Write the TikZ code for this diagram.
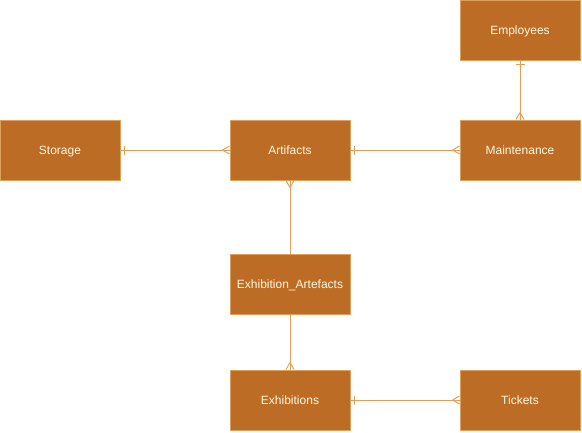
\documentclass[tikz,border=0pt]{standalone}
\usepackage{fontspec}
\setmainfont{Liberation Sans}
\usetikzlibrary{arrows.meta}

\definecolor{boxfill}{HTML}{BC6C25}
\definecolor{boxline}{HTML}{DDA15E}
\definecolor{boxtext}{HTML}{FEFAE0}

%%% Crow's foot (many) and bar (one) tips
\pgfdeclarearrow{
  name = many,
  setup code = {
    \pgfarrowssettipend{0pt}
    \pgfarrowssetlineend{0pt}
    \pgfarrowssetvisualbackend{-7pt}
    \pgfarrowssetbackend{-7pt}
  },
  drawing code = {
    \pgfpathmoveto{\pgfpoint{-7pt}{0pt}}
    \pgfpathlineto{\pgfpoint{0pt}{4pt}}
    \pgfpathmoveto{\pgfpoint{-7pt}{0pt}}
    \pgfpathlineto{\pgfpoint{0pt}{-4pt}}
    \pgfusepathqstroke
  }
}
\pgfdeclarearrow{
  name = one,
  setup code = {
    \pgfarrowssettipend{0pt}
    \pgfarrowssetlineend{0pt}
    \pgfarrowssetvisualbackend{-5pt}
    \pgfarrowssetbackend{-5pt}
  },
  drawing code = {
    \pgfpathmoveto{\pgfpoint{-4pt}{-4.5pt}}
    \pgfpathlineto{\pgfpoint{-4pt}{4.5pt}}
    \pgfusepathqstroke
  }
}

\tikzset{
  entity/.style={draw=boxline, fill=boxfill, line width=1pt, text=boxtext,
    minimum width=120pt, minimum height=60pt, inner sep=0pt,
    text height=8.6pt, text depth=0pt,
    font=\fontsize{12}{14}\selectfont},
  rel/.style={draw=boxline, line width=1pt}
}

\def\colA{60}
\def\colB{290}
\def\colC{520}

\begin{document}
\begin{tikzpicture}[x=1pt,y=-1pt]

	\useasboundingbox (0,0) rectangle (582,432);

	%%% Entities
	\node[entity] (storage) at (\colA,150) {Storage};
	\node[entity] (artifacts) at (\colB,150) {Artifacts};
	\node[entity] (maintenance) at (\colC,150) {Maintenance};
	\node[entity] (employees) at (\colC,30) {Employees};
	\node[entity] (exh_art) at (\colB,284) {Exhibition\_Artefacts};
	\node[entity] (exhibitions) at (\colB,400) {Exhibitions};
	\node[entity] (tickets) at (\colC,400) {Tickets};

	%%% Relations
	\draw[rel, many-one] (artifacts.west) -- (storage.east);
	\draw[rel, many-one] (maintenance.west) -- (artifacts.east);
	\draw[rel, many-one] (maintenance.north) -- (employees.south);
	\draw[rel, -many] (exh_art.north) -- (artifacts.south);
	\draw[rel, -many] (exh_art.south) -- (exhibitions.north);
	\draw[rel, many-one] (tickets.west) -- (exhibitions.east);

\end{tikzpicture}
\end{document}
